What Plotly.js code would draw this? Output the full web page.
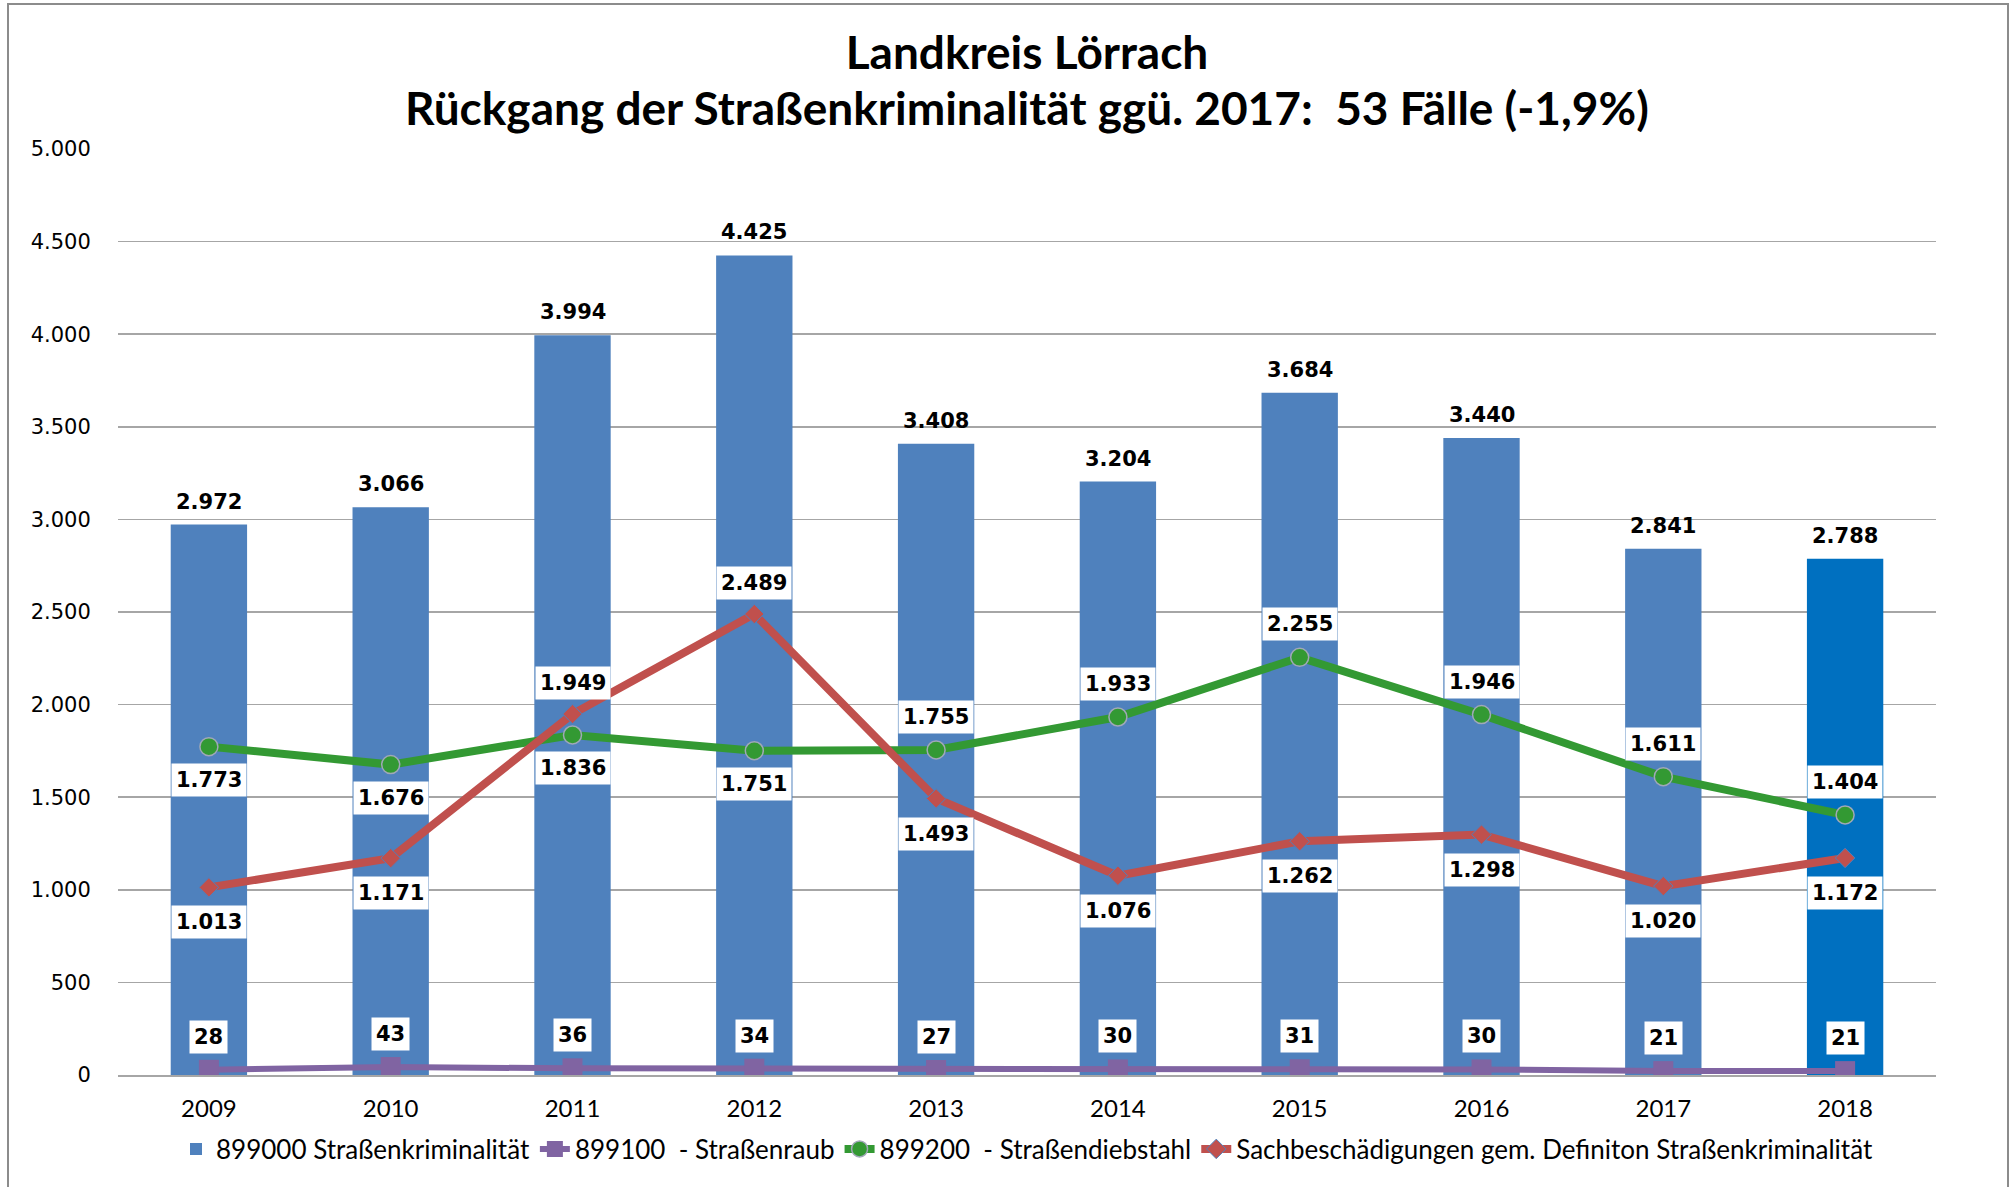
<!DOCTYPE html>
<html>
<head>
<meta charset="utf-8">
<script src="https://cdn.plot.ly/plotly-3.0.1.min.js"></script>
<style>
  html, body { margin:0; padding:0; background:#fff; }
  #wrap { position:relative; width:2013px; height:1187px; }
  #chart { position:absolute; left:0; top:0; width:2013px; height:1187px; }
  #frame { position:absolute; left:7px; top:3px; width:2002px; height:1190px; border:2px solid #8c8c8c; pointer-events:none; box-sizing:border-box; }
</style>
</head>
<body>
<div id="wrap"><div id="chart"></div><div id="frame"></div></div>
<script>
const years = ['2009','2010','2011','2012','2013','2014','2015','2016','2017','2018'];
const total = [2972, 3066, 3994, 4425, 3408, 3204, 3684, 3440, 2841, 2788];
const raub = [28, 43, 36, 34, 27, 30, 31, 30, 21, 21];
const diebstahl = [1773, 1676, 1836, 1751, 1755, 1933, 2255, 1946, 1611, 1404];
const sachbesch = [1013, 1171, 1949, 2489, 1493, 1076, 1262, 1298, 1020, 1172];
const diebPos = ['below','below','below','below','above','above','above','above','above','above'];
const sachPos = ['below','below','above','above','below','below','below','below','below','below'];
const seriesNames = ['899000 Straßenkriminalität', '899100\u00a0 - Straßenraub', '899200\u00a0 - Straßendiebstahl', 'Sachbeschädigungen gem. Definiton Straßenkriminalität'];
const titleLine1 = 'Landkreis Lörrach';
const titleLine2 = 'Rückgang der Straßenkriminalität ggü. 2017:\u00a0 53 Fälle (-1,9%)';

const barColors = years.map((y, i) => i === years.length - 1 ? '#0070C0' : '#4F81BD');
const fmt = v => String(v).replace(/\B(?=(\d{3})+(?!\d))/g, '.');

const traces = [
  { type:'bar', x:years, y:total, name:seriesNames[0], marker:{color:barColors}, width:0.42 },
  { type:'scatter', mode:'lines+markers', x:years, y:raub, name:seriesNames[1],
    line:{color:'#8064A2', width:6}, marker:{symbol:'square', size:20, color:'#8064A2'} },
  { type:'scatter', mode:'lines+markers', x:years, y:diebstahl, name:seriesNames[2],
    line:{color:'#339933', width:8}, marker:{symbol:'circle', size:18, color:'#339933', line:{color:'#A0A8B8', width:1.5}} },
  { type:'scatter', mode:'lines+markers', x:years, y:sachbesch, name:seriesNames[3],
    line:{color:'#C0504D', width:8}, marker:{symbol:'diamond', size:15, color:'#C0504D', line:{color:'#4F81BD', width:1}} }
];

const labelFont = {family:'DejaVu Sans, Verdana, sans-serif', size:21, color:'#000'};
const titleFont = {family:'Lato, Open Sans, sans-serif', size:46, color:'#000'};
const annotations = [];
years.forEach((yr, i) => {
  annotations.push({x:i, y:total[i], xref:'x', yref:'y', text:'<b>'+fmt(total[i])+'</b>', showarrow:false,
    yanchor:'bottom', yshift:9, font:labelFont});
  annotations.push({x:i, y:raub[i], xref:'x', yref:'y', text:'<b>'+fmt(raub[i])+'</b>', showarrow:false,
    yshift:33, bgcolor:'#fff', borderpad:4, font:labelFont});
  annotations.push({x:i, y:diebstahl[i], xref:'x', yref:'y', text:'<b>'+fmt(diebstahl[i])+'</b>', showarrow:false,
    yshift: diebPos[i] === 'above' ? 33 : -33, bgcolor:'#fff', borderpad:4, font:labelFont});
  annotations.push({x:i, y:sachbesch[i], xref:'x', yref:'y', text:'<b>'+fmt(sachbesch[i])+'</b>', showarrow:false,
    yshift: sachPos[i] === 'above' ? 31 : -35, bgcolor:'#fff', borderpad:4, font:labelFont});
});
annotations.push({x:0.5, xref:'paper', y:(1075 - 107) / 926, yref:'paper', yanchor:'middle', xanchor:'center',
  text:'<b>' + titleLine2 + '</b>', showarrow:false, font:titleFont});

const layout = {
  width:2013, height:1187,
  separators:',.',
  paper_bgcolor:'#fff', plot_bgcolor:'#fff',
  margin:{l:118, r:77, t:149, b:112},
  title:{
    text:'<b>' + titleLine1 + '</b>',
    font:titleFont,
    x:0.5, xanchor:'center', xref:'paper', y:1 - 53/1187, yref:'container', yanchor:'middle'
  },
  xaxis:{
    type:'category', range:[-0.5, 9.5],
    showgrid:false, showline:true, linecolor:'#A6A6A6', linewidth:1.5,
    ticks:'outside', ticklen:12, tickcolor:'rgba(0,0,0,0)',
    tickfont:{family:'Lato, sans-serif', size:24, color:'#000'}
  },
  yaxis:{
    range:[0, 5000], dtick:500, tickformat:',d',
    showgrid:true, gridcolor:'#A6A6A6', gridwidth:1.5, zeroline:false,
    showline:false,
    ticks:'outside', ticklen:22, tickcolor:'rgba(0,0,0,0)',
    tickfont:{family:'DejaVu Sans, Verdana, sans-serif', size:21, color:'#000'}
  },
  bargap:0.58,
  showlegend:true,
  legend:{
    orientation:'h', x:0.5, xanchor:'center', y:-74/926, yanchor:'middle',
    font:{family:'Lato, sans-serif', size:26, color:'#000'},
    traceorder:'normal'
  },
  annotations:annotations
};

Plotly.newPlot('chart', traces, layout, {displayModeBar:false, staticPlot:true});
</script>
</body>
</html>
